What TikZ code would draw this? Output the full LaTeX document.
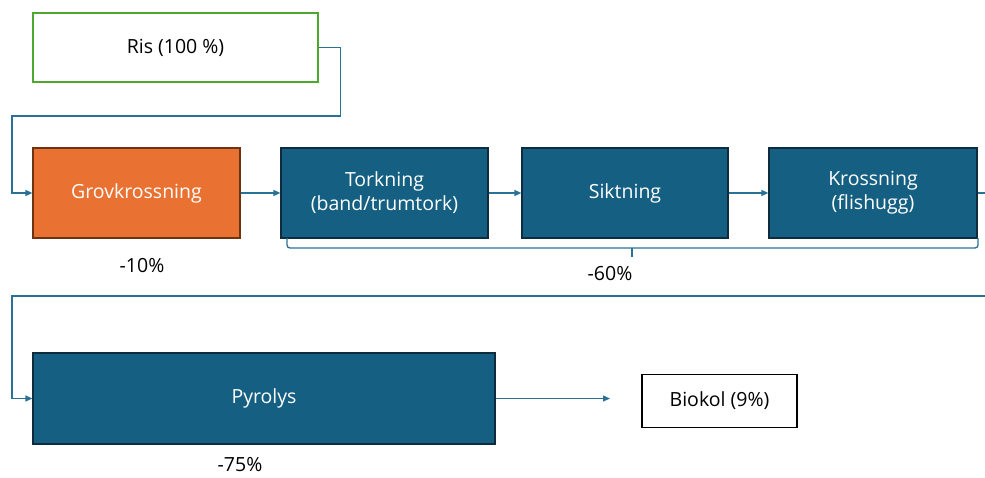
\documentclass[tikz,border=0pt]{standalone}
\usepackage{fontspec}
\setmainfont{Open Sans}
\usetikzlibrary{arrows.meta}
\definecolor{steg}{HTML}{156082}
\definecolor{stegkant}{HTML}{0E2C3E}
\definecolor{grov}{HTML}{E97132}
\definecolor{grovkant}{HTML}{6E3310}
\definecolor{ledning}{HTML}{2A7198}
\definecolor{risgron}{HTML}{4EA72E}
\begin{document}
\begin{tikzpicture}[x=1pt,y=-1pt,
  font=\fontsize{19.5}{24}\selectfont,
  stegbox/.style={draw=stegkant,fill=steg,line width=1.2pt,text=white,
    align=center,inner sep=0pt},
  utbox/.style={draw,fill=white,line width=1.2pt,align=center,inner sep=0pt},
  flode/.style={draw=ledning,line width=1.3pt,-{Triangle[length=7pt,width=6pt]}},
  minus/.style={inner sep=0pt}]
\useasboundingbox (0,0) rectangle (985,477);
%Rutor
  \node[utbox,draw=risgron,minimum width=285pt,minimum height=69pt]
    (ris) at (175.5,47.5) {Ris (100 \%)};
  \node[stegbox,draw=grovkant,fill=grov,minimum width=207pt,minimum height=90pt]
    (grov) at (136.5,193) {Grovkrossning};
  \node[stegbox,minimum width=207pt,minimum height=90pt]
    (tork) at (384.5,193) {Torkning\\(band/trumtork)};
  \node[stegbox,minimum width=206pt,minimum height=90pt]
    (sikt) at (625,193) {Siktning};
  \node[stegbox,minimum width=208pt,minimum height=90pt]
    (kross) at (873,193) {Krossning\\(flishugg)};
  \node[stegbox,minimum width=462pt,minimum height=91pt]
    (pyro) at (264,398.5) {Pyrolys};
  \node[utbox,minimum width=155pt,minimum height=53pt]
    (biokol) at (719.5,401) {Biokol (9\%)};
%Minskning
  \node[minus] (m10) at (142,266) {-10\%};
  \node[minus] (m60) at (610,274) {-60\%};
  \node[minus] (m75) at (240,465) {-75\%};
%Pilar
  \coordinate (kant) at (985,193);
  \coordinate (biopil) at (610,398.5);
  \draw[flode] (ris.east) -- ++(22,0) |- (12,116) |- (grov.west);
  \draw[flode] (grov) -- (tork);
  \draw[flode] (tork) -- (sikt);
  \draw[flode] (sikt) -- (kross);
  \draw[draw=ledning,line width=1.3pt] (kross.east) -- (kant);
  \draw[flode] (985,296) -| (12,350) |- (pyro.west);
  \draw[flode] (pyro.east) -- (biopil);
%Klammer
  \draw[draw=ledning,line width=1.3pt,rounded corners=3pt]
    (287,238) |- (632,248) -| (978,238);
  \draw[draw=ledning,line width=1.3pt] (632,248) -- (632,257);
\end{tikzpicture}
\end{document}
